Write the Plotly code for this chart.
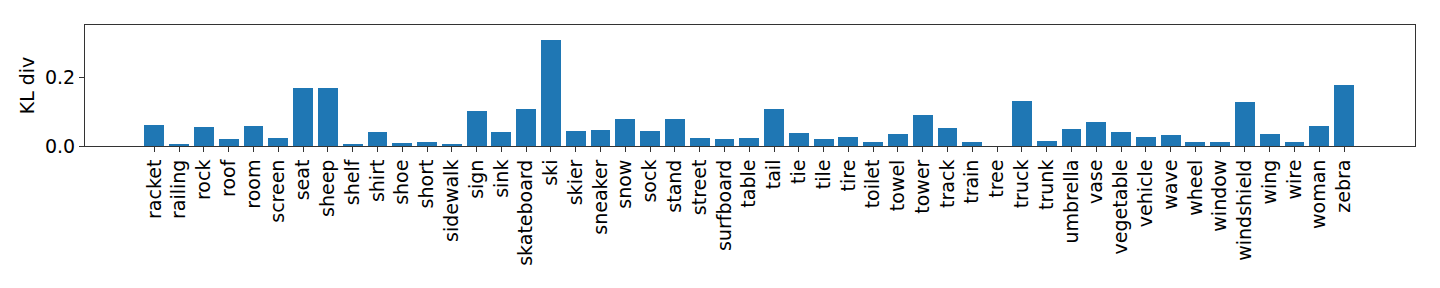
import plotly.graph_objects as go

categories = ["racket", "railing", "rock", "roof", "room", "screen", "seat", "sheep", "shelf", "shirt",
              "shoe", "short", "sidewalk", "sign", "sink", "skateboard", "ski", "skier", "sneaker", "snow",
              "sock", "stand", "street", "surfboard", "table", "tail", "tie", "tile", "tire", "toilet",
              "towel", "tower", "track", "train", "tree", "truck", "trunk", "umbrella", "vase", "vegetable",
              "vehicle", "wave", "wheel", "window", "windshield", "wing", "wire", "woman", "zebra"]
kl_values = [0.061, 0.006, 0.055, 0.020, 0.058, 0.023, 0.169, 0.169, 0.006, 0.041,
             0.009, 0.012, 0.006, 0.102, 0.041, 0.108, 0.309, 0.044, 0.047, 0.079,
             0.044, 0.079, 0.023, 0.020, 0.023, 0.108, 0.038, 0.020, 0.026, 0.012,
             0.035, 0.090, 0.052, 0.012, 0.0, 0.131, 0.015, 0.050, 0.070, 0.041,
             0.026, 0.032, 0.012, 0.012, 0.128, 0.035, 0.012, 0.058, 0.178]
y_ticks = [0.0, 0.2]
y_tick_labels = ["0.0", "0.2"]

idx = list(range(len(categories)))

fig = go.Figure(go.Bar(x=idx, y=kl_values, width=0.8, marker=dict(color="#1f77b4", line=dict(width=0))))

font = dict(family="DejaVu Sans", size=19, color="black")
# page body has an 8px margin; figure sized so plot area lands at x 85..1415, y 25..146
fig.update_layout(
    width=1432, height=280,
    margin=dict(l=77, r=25, t=17, b=142, autoexpand=False),
    plot_bgcolor="white", paper_bgcolor="white",
    font=font, showlegend=False,
    bargap=0,
)
fig.update_xaxes(
    range=[-2.8, len(categories) - 1 + 2.86],
    tickmode="array", tickvals=idx, ticktext=categories, tickangle=-90,
    ticks="outside", ticklen=5, tickcolor="#333", tickwidth=1,
    showline=True, linecolor="#333", linewidth=1, mirror=True,
    showgrid=False, zeroline=False, tickfont=font, automargin=False,
)
fig.update_yaxes(
    range=[0, 0.3515],
    tickmode="array", tickvals=y_ticks, ticktext=y_tick_labels,
    ticks="outside", ticklen=5, tickcolor="#333", tickwidth=1,
    showline=True, linecolor="#333", linewidth=1, mirror=True,
    showgrid=False, zeroline=False, tickfont=font, automargin=False,
    title=dict(text="KL div", font=font, standoff=5),
)
fig.write_html("out.html")
